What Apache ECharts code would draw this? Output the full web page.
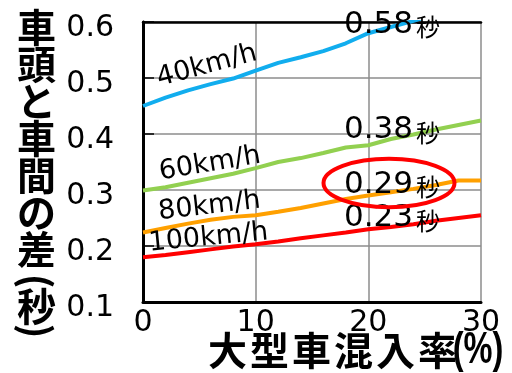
<!DOCTYPE html>
<html>
<head>
<meta charset="utf-8">
<script src="https://cdn.jsdelivr.net/npm/echarts@6/dist/echarts.min.js"></script>
<style>
  html, body { margin: 0; padding: 0; background: #fff; }
  #chart { width: 512px; height: 373px; }
</style>
</head>
<body>
<div id="chart"></div>
<script>
// 大型車混入率 (%) on the x axis
const mixRates = [0, 2, 4, 6, 8, 10, 12, 14, 16, 18, 20, 22, 24, 26, 28, 30];

// 車頭と車間の差 (秒) for each speed
const speed40 = [0.450, 0.465, 0.478, 0.489, 0.499, 0.513, 0.527, 0.537, 0.548, 0.562, 0.580, 0.591, 0.602, 0.614, 0.626, 0.638];
const speed60 = [0.299, 0.305, 0.313, 0.321, 0.329, 0.339, 0.350, 0.357, 0.366, 0.376, 0.380, 0.391, 0.399, 0.408, 0.416, 0.424];
const speed80 = [0.224, 0.232, 0.240, 0.247, 0.252, 0.255, 0.261, 0.268, 0.276, 0.284, 0.290, 0.296, 0.302, 0.309, 0.317, 0.317];
const speed100 = [0.180, 0.184, 0.189, 0.194, 0.199, 0.203, 0.208, 0.214, 0.219, 0.224, 0.230, 0.234, 0.239, 0.245, 0.250, 0.255];

const speedNames = ['40km/h', '60km/h', '80km/h', '100km/h'];
const speedColors = ['#11adee', '#92d050', '#ffa000', '#ff0000'];
const speedSeries = [speed40, speed60, speed80, speed100];

const yTicks = [0.1, 0.2, 0.3, 0.4, 0.5, 0.6];
const xTicks = [0, 10, 20, 30];

const yTitle = '車頭と車間の差';
const yTitleUnit = '秒';
const xTitle = '大型車混入率';
const xTitleUnit = '(%)';

// values annotated at 20 %
const annotateRate = 20;
const annotateIdx = mixRates.indexOf(annotateRate);

const chart = echarts.init(document.getElementById('chart'), null, { renderer: 'canvas' });

const tickFont = '"DejaVu Sans", sans-serif';
const cjkFont = '"Noto Sans CJK JP", sans-serif';

function txt(text, x, y, font, opts) {
  opts = opts || {};
  return {
    type: 'text',
    x: x, y: y,
    rotation: opts.rotation || 0,
    scaleX: opts.scaleX || 1,
    z: 50,
    style: {
      text: text,
      font: font,
      fill: opts.fill || '#000',
      textAlign: opts.align || 'center',
      align: opts.align || 'center',
      textVerticalAlign: 'middle',
      verticalAlign: 'middle'
    }
  };
}

const graphics = [];

// vertical axis title, one character per row
for (let i = 0; i < yTitle.length; i++) {
  graphics.push(txt(yTitle[i], 36.5, 27 + i * 37, 'bold 39px ' + cjkFont));
}
graphics.push(txt('(', 36.5, 281, 'bold 39px ' + cjkFont, { rotation: -Math.PI / 2 }));
graphics.push(txt(yTitleUnit, 36.5, 306, 'bold 39px ' + cjkFont));
graphics.push(txt(')', 36.5, 331, 'bold 39px ' + cjkFont, { rotation: -Math.PI / 2 }));

// horizontal axis title
for (let i = 0; i < xTitle.length; i++) {
  graphics.push(txt(xTitle[i], 227.5 + i * 42, 350, 'bold 39px ' + cjkFont));
}
// narrow half-width unit after the title
graphics.push(txt(xTitleUnit, 478, 351, 'bold 44px "Liberation Sans", sans-serif', { scaleX: 0.74 }));

// speed names along each line
const nameSpots = [
  { x: 207, y: 66, deg: 15 },
  { x: 210, y: 164, deg: 9.5 },
  { x: 209.5, y: 206.5, deg: 6.5 },
  { x: 208.5, y: 238, deg: 5.5 }
];
nameSpots.forEach(function (p, i) {
  graphics.push(txt(speedNames[i], p.x, p.y, '27px ' + tickFont, { rotation: p.deg * Math.PI / 180 }));
});

// value call-outs at 20 %
const valueRows = [24.7, 130, 184.5, 218.3];
speedSeries.forEach(function (s, i) {
  graphics.push(txt(s[annotateIdx].toFixed(2), 344, valueRows[i], '31px ' + tickFont, { align: 'left' }));
  graphics.push(txt('秒', 428, valueRows[i] + 2.5, '24px ' + cjkFont));
});

// highlight ring around the 80km/h value
graphics.push({
  type: 'ellipse',
  z: 60,
  shape: { cx: 389, cy: 183, rx: 65.5, ry: 24.3 },
  style: { fill: 'none', stroke: '#ff0000', lineWidth: 4 }
});

const option = {
  animation: false,
  backgroundColor: '#fff',
  grid: { left: 143, right: 31, top: 22, bottom: 71, containLabel: false },
  xAxis: [{
    type: 'value', min: xTicks[0], max: xTicks[xTicks.length - 1], interval: 10,
    position: 'bottom',
    axisLine: { show: true, lineStyle: { color: '#000', width: 3 } },
    axisTick: { show: false },
    axisLabel: { fontFamily: tickFont, fontSize: 30, color: '#000', margin: 6 },
    splitLine: { show: true, lineStyle: { color: '#8c8c8c', width: 1.5 } }
  }, {
    type: 'value', min: xTicks[0], max: xTicks[xTicks.length - 1], interval: 10,
    position: 'top',
    axisLine: { show: true, lineStyle: { color: '#000', width: 2.5 } },
    axisTick: { show: false }, axisLabel: { show: false }, splitLine: { show: false }
  }],
  yAxis: [{
    type: 'value', min: yTicks[0], max: yTicks[yTicks.length - 1], interval: 0.1,
    position: 'left',
    axisLine: { show: true, lineStyle: { color: '#000', width: 3 } },
    axisTick: { show: true, inside: true, length: 11, lineStyle: { color: '#000', width: 1.5 } },
    axisLabel: {
      fontFamily: tickFont, fontSize: 30, color: '#000', margin: 29,
      verticalAlign: 'top', lineHeight: 12,
      formatter: function (v) { return v.toFixed(1); }
    },
    splitLine: { show: true, lineStyle: { color: '#8c8c8c', width: 1.5 } }
  }, {
    type: 'value', min: yTicks[0], max: yTicks[yTicks.length - 1], interval: 0.1,
    position: 'right',
    axisLine: { show: true, lineStyle: { color: '#000', width: 2.5 } },
    axisTick: { show: false }, axisLabel: { show: false }, splitLine: { show: false }
  }],
  series: speedSeries.map(function (s, i) {
    return {
      name: speedNames[i],
      type: 'line',
      data: mixRates.map(function (r, k) { return [r, s[k]]; }),
      showSymbol: false,
      clip: true,
      lineStyle: { color: speedColors[i], width: 4 },
      z: 3
    };
  }),
  graphic: graphics
};

chart.setOption(option);
</script>
</body>
</html>
